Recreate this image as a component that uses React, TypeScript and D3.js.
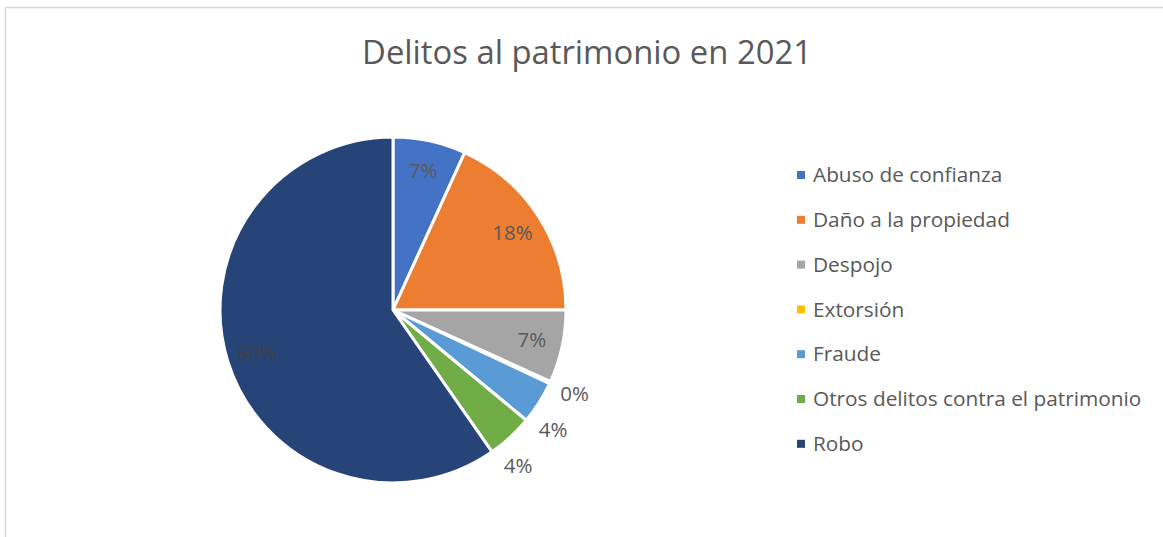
import React, { useEffect, useRef } from "react";
import * as d3 from "d3";

const categories = [
  "Abuso de confianza",
  "Daño a la propiedad",
  "Despojo",
  "Extorsión",
  "Fraude",
  "Otros delitos contra el patrimonio",
  "Robo",
];
const shares = [6.8, 18.2, 6.8, 0.2, 4.0, 4.3, 59.7];
const pctLabels = ["7%", "18%", "7%", "0%", "4%", "4%", "60%"];
const colors = ["#4472C4", "#ED7D31", "#A5A5A5", "#FFC000", "#5B9BD5", "#70AD47", "#264478"];

const App = () => {
  const ref = useRef<SVGSVGElement>(null);

  useEffect(() => {
    document.body.style.margin = "0";
    const width = 1163,
      height = 537,
      cx = 393,
      cy = 310,
      radius = 173,
      font = "'Open Sans', 'DejaVu Sans', sans-serif",
      textColor = "#595959";

    const svg = d3.select(ref.current);
    svg.selectAll("*").remove();
    svg.attr("width", width).attr("height", height);

    // chart frame
    svg
      .append("rect")
      .attr("x", 5.5)
      .attr("y", 7.5)
      .attr("width", width + 10)
      .attr("height", height + 10)
      .attr("fill", "#fff")
      .attr("stroke", "#d9d9d9")
      .attr("stroke-width", 1.5);

    svg
      .append("text")
      .attr("x", 587)
      .attr("y", 64)
      .attr("text-anchor", "middle")
      .attr("font-family", font)
      .attr("font-size", 32.8)
      .attr("fill", textColor)
      .text("Delitos al patrimonio en 2021");

    const pie = d3.pie<number>().sort(null).value(d => d);
    const arcs = pie(shares);
    const arc = d3.arc<d3.PieArcDatum<number>>().innerRadius(0).outerRadius(radius);

    const g = svg.append("g").attr("transform", `translate(${cx},${cy})`);

    g.selectAll("path.slice")
      .data(arcs)
      .enter()
      .append("path")
      .attr("class", "slice")
      .attr("d", arc)
      .attr("fill", (d, i) => colors[i])
      .attr("stroke", "#fff")
      .attr("stroke-width", 3)
      .attr("stroke-linejoin", "round");

    // label positions: inside for big slices, outside (pushed apart) for small ones
    const outR = 200,
      inR = 142,
      gap = 36;
    let prevY = -Infinity;
    const pos = arcs.map(d => {
      const mid = (d.startAngle + d.endAngle) / 2;
      if (d.data >= 5) return [Math.sin(mid) * inR, -Math.cos(mid) * inR];
      let y = -Math.cos(mid) * outR;
      if (y < prevY + gap) y = prevY + gap;
      prevY = y;
      const x = Math.sqrt(Math.max(0, outR * outR - y * y)) * Math.sign(Math.sin(mid));
      return [x, y];
    });

    g.selectAll("text.pct")
      .data(arcs)
      .enter()
      .append("text")
      .attr("class", "pct")
      .attr("transform", (d, i) => `translate(${pos[i][0]},${pos[i][1]})`)
      .attr("text-anchor", "middle")
      .attr("dy", "0.35em")
      .attr("font-family", font)
      .attr("font-size", 20.5)
      .attr("fill", (d, i) => (i === 6 ? "#404040" : textColor))
      .text((d, i) => pctLabels[i]);

    const legend = svg.append("g").attr("transform", "translate(797,175)");
    const rows = legend
      .selectAll("g.row")
      .data(categories)
      .enter()
      .append("g")
      .attr("class", "row")
      .attr("transform", (d, i) => `translate(0,${i * 44.8})`);

    rows
      .append("rect")
      .attr("x", 0)
      .attr("y", -4)
      .attr("width", 8)
      .attr("height", 8)
      .attr("fill", (d, i) => colors[i]);

    rows
      .append("text")
      .attr("x", 16)
      .attr("dy", "0.35em")
      .attr("font-family", font)
      .attr("font-size", 20.8)
      .attr("fill", textColor)
      .text(d => d);
  }, []);

  return (
    <>
      <svg ref={ref} style={{ display: "block" }}></svg>
    </>
  );
};

export default App;
